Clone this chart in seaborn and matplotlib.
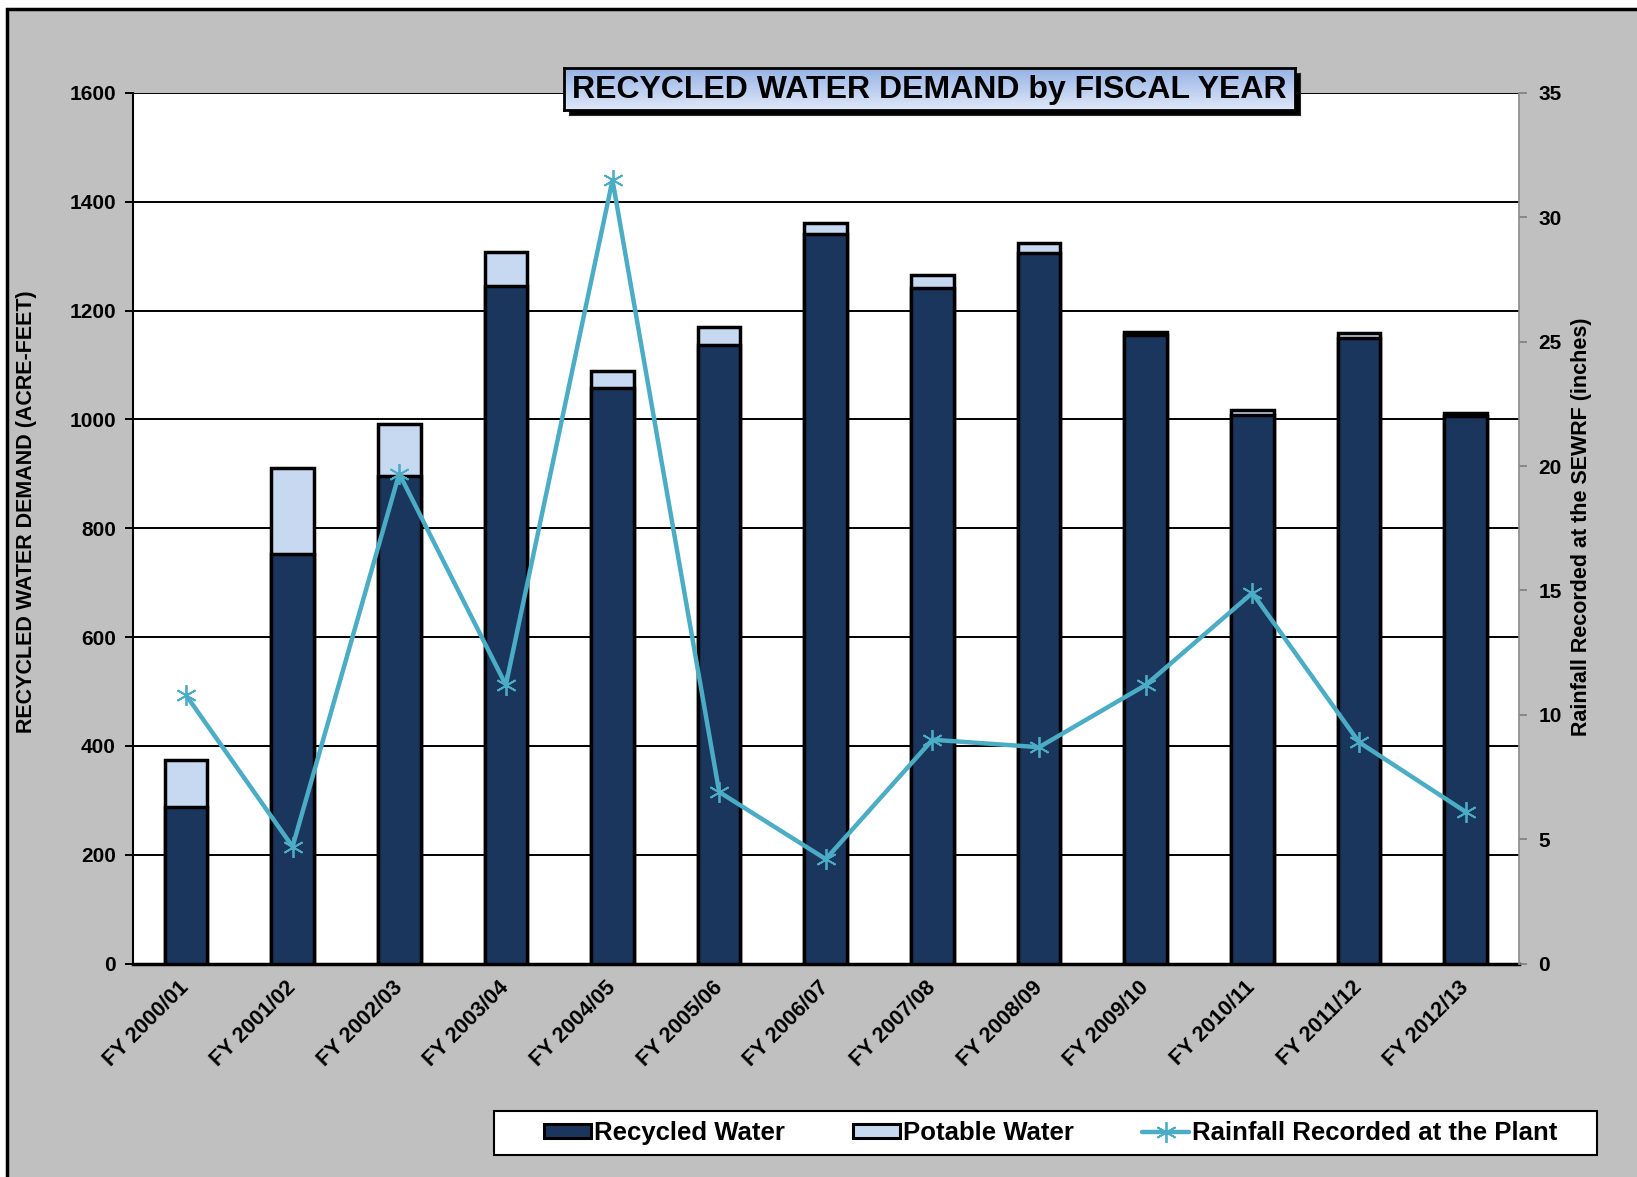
import numpy as np
import matplotlib
matplotlib.use("Agg")
import matplotlib.pyplot as plt
import seaborn as sns
from matplotlib.patches import Rectangle, Patch
from matplotlib.lines import Line2D
from matplotlib.colors import LinearSegmentedColormap

# ---------------- data ----------------
categories = ["FY 2000/01", "FY 2001/02", "FY 2002/03", "FY 2003/04", "FY 2004/05",
              "FY 2005/06", "FY 2006/07", "FY 2007/08", "FY 2008/09", "FY 2009/10",
              "FY 2010/11", "FY 2011/12", "FY 2012/13"]
recycled_water = [288, 752, 896, 1245, 1057, 1136, 1341, 1241, 1306, 1155, 1009, 1150, 1006]
potable_water = [86, 159, 96, 63, 33, 34, 21, 25, 18, 6, 8, 9, 5]
rainfall = [10.8, 4.7, 19.7, 11.2, 31.5, 6.9, 4.2, 9.0, 8.7, 11.2, 14.9, 8.9, 6.1]

left_ticks = [0, 200, 400, 600, 800, 1000, 1200, 1400, 1600]
right_ticks = [0, 5, 10, 15, 20, 25, 30, 35]

title = "RECYCLED WATER DEMAND by FISCAL YEAR"
left_label = "RECYCLED WATER DEMAND (ACRE-FEET)"
right_label = "Rainfall Recorded at the SEWRF (inches)"
legend_labels = ["Recycled Water", "Potable Water", "Rainfall Recorded at the Plant"]

# ---------------- style ----------------
sns.set_style("white")
plt.rcParams["font.family"] = ["Liberation Sans", "DejaVu Sans"]
plt.rcParams["text.color"] = "black"
plt.rcParams["xtick.color"] = "black"
plt.rcParams["ytick.color"] = "black"
plt.rcParams["axes.labelcolor"] = "black"

C_REC = "#1B365D"
C_POT = "#C6D9F1"
C_LINE = "#4BACC6"
STAR = (6, 2, 0)

W, H = 1637, 1177
fig = plt.figure(figsize=(W / 100, H / 100), dpi=100, facecolor="white")

# gray chart-area background with black frame
fig.patches.append(Rectangle((7 / W, -0.02), 1.05, (H - 8.5) / H + 0.02,
                             transform=fig.transFigure, facecolor="#C0C0C0",
                             edgecolor="black", linewidth=2.5, zorder=-10))

ax = fig.add_axes([132.6 / W, 1 - 963.6 / H, (1519 - 132.6) / W, (963.6 - 93) / H])
ax.set_facecolor("white")

total = [r + p for r, p in zip(recycled_water, potable_water)]
sns.barplot(x=categories, y=total, color=C_POT, saturation=1, width=0.4,
            edgecolor="black", linewidth=2.5, errorbar=None, ax=ax, zorder=3)
sns.barplot(x=categories, y=recycled_water, color=C_REC, saturation=1, width=0.4,
            edgecolor="black", linewidth=2.5, errorbar=None, ax=ax, zorder=4)

ax.set_xlim(-0.5, len(categories) - 0.5)
ax.set_ylim(0, 1600)
ax.set_yticks(left_ticks)
ax.set_yticklabels([str(t) for t in left_ticks], fontsize=15, fontweight="bold")
ax.yaxis.grid(True, color="black", linewidth=1.4, zorder=0)
ax.xaxis.grid(False)
ax.set_axisbelow(True)
ax.set_xlabel("")
ax.set_ylabel("")

ax.set_xticks(range(len(categories)))
ax.set_xticklabels(categories, fontsize=15.5, fontweight="bold", rotation=45, ha="right",
                   va="center", rotation_mode="anchor")
ax.set_xticks(np.arange(-0.5, len(categories), 1), minor=True)
ax.tick_params(axis="x", which="major", length=0, pad=15)
ax.tick_params(axis="x", which="minor", length=7, width=1.5, color="black", direction="out")
ax.tick_params(axis="y", length=6, width=1.4, color="black", direction="out", pad=6, left=True)

for s in ["top", "right"]:
    ax.spines[s].set_visible(False)
ax.spines["left"].set_color("black")
ax.spines["left"].set_linewidth(1.5)
ax.spines["bottom"].set_color("black")
ax.spines["bottom"].set_linewidth(2.5)

# secondary axis: rainfall
ax2 = ax.twinx()
sns.lineplot(x=np.arange(len(categories)), y=rainfall, ax=ax2, color=C_LINE, linewidth=3.2,
             marker=STAR, markersize=15, markeredgecolor=C_LINE, markeredgewidth=1.3,
             sort=False, zorder=5)
ax2.set_ylim(0, 35)
ax2.set_yticks(right_ticks)
ax2.set_yticklabels([str(t) for t in right_ticks], fontsize=15, fontweight="bold")
ax2.set_ylabel("")
ax2.grid(False)
ax2.tick_params(axis="y", length=6, width=1.2, color="#7F7F7F", direction="out", pad=8, right=True)
for s in ["top", "left", "bottom"]:
    ax2.spines[s].set_visible(False)
ax2.spines["right"].set_color("#8C8C8C")
ax2.spines["right"].set_linewidth(1.2)
ax2.set_xlim(-0.5, len(categories) - 0.5)

# axis titles
fig.text(27 / W, 1 - 512 / H, left_label, rotation=90, ha="center", va="center",
         fontsize=15.5, fontweight="bold")
fig.text(1582 / W, 1 - 527 / H, right_label, rotation=90, ha="center", va="center",
         fontsize=15.5, fontweight="bold")

# title box with shadow and gradient
bx, by, bw, bh = 564 / W, 1 - 110 / H, (1295 - 564) / W, 42 / H
sax = fig.add_axes([bx + 5 / W, by - 5 / H, bw, bh])
sax.set_facecolor("black")
sax.set_xticks([]); sax.set_yticks([])
tax = fig.add_axes([bx, by, bw, bh])
grad = np.linspace(0, 1, 100).reshape(-1, 1)
cmap = LinearSegmentedColormap.from_list("g", ["#96B3E6", "#DFE8F8"])
tax.imshow(grad, aspect="auto", cmap=cmap, extent=[0, 1, 0, 1], origin="upper")
tax.set_xlim(0, 1); tax.set_ylim(0, 1)
tax.set_xticks([]); tax.set_yticks([])
for s in tax.spines.values():
    s.set_color("black"); s.set_linewidth(2)
tax.text(0.5, 0.47, title, ha="center", va="center", fontsize=23, fontweight="bold",
         color="black", transform=tax.transAxes)

# legend: frame drawn as a figure rectangle, entries centred inside it
fig.patches.append(Rectangle((494 / W, 1 - 1155 / H), 1103 / W, 44 / H,
                             transform=fig.transFigure, facecolor="white",
                             edgecolor="black", linewidth=1.5, zorder=-5))
handles = [Patch(facecolor=C_REC, edgecolor="black", linewidth=2.2),
           Patch(facecolor=C_POT, edgecolor="black", linewidth=2.2),
           Line2D([], [], color=C_LINE, linewidth=3.2, marker=STAR, markersize=15,
                  markeredgecolor=C_LINE, markeredgewidth=1.3)]
leg = fig.legend(handles, legend_labels, loc="center", bbox_to_anchor=(1050.5 / W, 1 - 1133 / H),
                 ncol=3, frameon=False, prop={"size": 18.5, "weight": "bold"},
                 handlelength=1.85, handleheight=0.5, handletextpad=0.1, columnspacing=2.65,
                 borderpad=0.2)

fig.savefig("out.png", dpi=100, facecolor=fig.get_facecolor())
